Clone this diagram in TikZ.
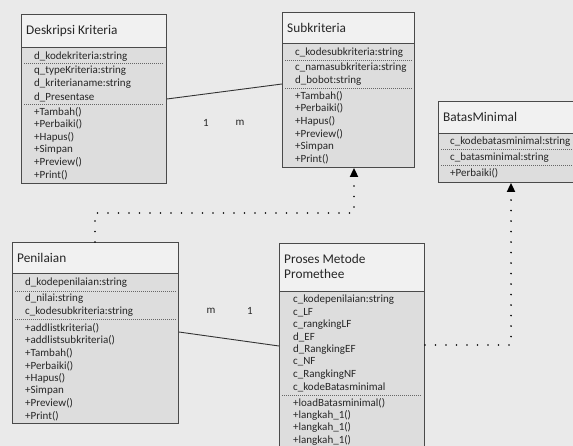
\documentclass[tikz,border=0pt]{standalone}
\usepackage{fontspec}
\setmainfont{Carlito}
\usetikzlibrary{positioning,arrows.meta,calc}
\definecolor{bgpaper}{HTML}{EAEAEA}
\definecolor{headfill}{HTML}{F1F1F1}
\definecolor{bodyfill}{HTML}{DDDDDD}
\definecolor{edgegray}{HTML}{4A4A4A}
\tikzset{
  classbox/.style={draw=edgegray, line width=0.9pt, fill=headfill, anchor=north west, inner sep=0pt,
    path picture={\fill[bodyfill] ([yshift=-#1]path picture bounding box.north west)
      rectangle (path picture bounding box.south east);}},
  ctitle/.style={anchor=west, inner sep=0pt, text=black!85, font=\fontsize{13.3}{15}\selectfont},
  crow/.style={anchor=west, inner sep=0pt, text=black!85, font=\fontsize{11}{12}\selectfont},
  sepline/.style={draw=edgegray, line width=0.8pt},
  dotsep/.style={draw=black!60, line width=0.6pt, dash pattern=on 1pt off 1pt},
  assoc/.style={draw=black!80, line width=0.9pt},
  depend/.style={draw=black, line width=1.8pt, line cap=round, dash pattern=on 0pt off 10.5pt,
    -{Triangle[width=8pt,length=9pt]}},
  mult/.style={inner sep=0pt, text=black!85, font=\fontsize{11}{13}\selectfont}
}

\begin{document}
\begin{tikzpicture}[x=1pt, y=-1pt]
  % latar
  \fill[bgpaper] (0,0) rectangle (573,446);
  \useasboundingbox (0,0) rectangle (573,446);
  \clip (0,0) rectangle (573,446);

  % Deskripsi Kriteria
  \node[classbox=33pt, minimum width=145pt, minimum height=169pt] (desk) at (21,14) {};
  \draw[sepline] ([yshift=-33pt]desk.north west) -- ([yshift=-33pt]desk.north east);
  \draw[dotsep] ([xshift=3pt,yshift=-49pt]desk.north west) -- ([xshift=-3pt,yshift=-49pt]desk.north east);
  \draw[dotsep] ([xshift=3pt,yshift=-90pt]desk.north west) -- ([xshift=-3pt,yshift=-90pt]desk.north east);
  \node[ctitle] (desk-t) at (26,31) {Deskripsi Kriteria};
  \node[crow] (desk-k) at (34,57) {d\_kodekriteria:string};
  \foreach \t [count=\i from 0] in {q\_typeKriteria:string, d\_kriterianame:string, d\_Presentase}
    \node[crow] (desk-a\i) at (34,71+13*\i) {\t};
  \foreach \t [count=\i from 0] in {+Tambah(), +Perbaiki(), +Hapus(), +Simpan, +Preview(), +Print()}
    \node[crow] (desk-m\i) at (34,112+12.6*\i) {\t};

  % Subkriteria
  \node[classbox=31pt, minimum width=132pt, minimum height=155pt] (sub) at (282,12) {};
  \draw[sepline] ([yshift=-31pt]sub.north west) -- ([yshift=-31pt]sub.north east);
  \draw[dotsep] ([xshift=3pt,yshift=-48pt]sub.north west) -- ([xshift=-3pt,yshift=-48pt]sub.north east);
  \draw[dotsep] ([xshift=3pt,yshift=-76pt]sub.north west) -- ([xshift=-3pt,yshift=-76pt]sub.north east);
  \node[ctitle] (sub-t) at (287,28) {Subkriteria};
  \node[crow] (sub-k) at (295,53) {c\_kodesubkriteria:string};
  \foreach \t [count=\i from 0] in {c\_namasubkriteria:string, d\_bobot:string}
    \node[crow] (sub-a\i) at (295,68+12.5*\i) {\t};
  \foreach \t [count=\i from 0] in {+Tambah(), +Perbaiki(), +Hapus(), +Preview(), +Simpan, +Print()}
    \node[crow] (sub-m\i) at (295,96+12.6*\i) {\t};

  % BatasMinimal
  \node[classbox=32pt, minimum width=138pt, minimum height=81pt] (batas) at (438,101) {};
  \draw[sepline] ([yshift=-32pt]batas.north west) -- ([yshift=-32pt]batas.north east);
  \draw[dotsep] ([xshift=3pt,yshift=-48pt]batas.north west) -- ([xshift=-3pt,yshift=-48pt]batas.north east);
  \draw[dotsep] ([xshift=3pt,yshift=-64pt]batas.north west) -- ([xshift=-3pt,yshift=-64pt]batas.north east);
  \node[ctitle] (batas-t) at (443,117) {BatasMinimal};
  \node[crow] (batas-k) at (450,142) {c\_kodebatasminimal:string};
  \node[crow] (batas-a) at (450,158) {c\_batasminimal:string};
  \node[crow] (batas-m) at (450,173) {+Perbaiki()};

  % Penilaian
  \node[classbox=31pt, minimum width=166pt, minimum height=181pt] (pen) at (12,242) {};
  \draw[sepline] ([yshift=-31pt]pen.north west) -- ([yshift=-31pt]pen.north east);
  \draw[dotsep] ([xshift=3pt,yshift=-49pt]pen.north west) -- ([xshift=-3pt,yshift=-49pt]pen.north east);
  \draw[dotsep] ([xshift=3pt,yshift=-77pt]pen.north west) -- ([xshift=-3pt,yshift=-77pt]pen.north east);
  \node[ctitle] (pen-t) at (17,258) {Penilaian};
  \node[crow] (pen-k) at (25,283) {d\_kodepenilaian:string};
  \foreach \t [count=\i from 0] in {d\_nilai:string, c\_kodesubkriteria:string}
    \node[crow] (pen-a\i) at (25,299+12.5*\i) {\t};
  \foreach \t [count=\i from 0] in {+addlistkriteria(), +addlistsubkriteria(), +Tambah(), +Perbaiki(),
      +Hapus(), +Simpan, +Preview(), +Print()}
    \node[crow] (pen-m\i) at (25,328+12.6*\i) {\t};

  % Proses Metode Promethee
  \node[classbox=48pt, minimum width=145pt, minimum height=215pt] (proc) at (279,243) {};
  \draw[sepline] ([yshift=-48pt]proc.north west) -- ([yshift=-48pt]proc.north east);
  \draw[dotsep] ([xshift=3pt,yshift=-152pt]proc.north west) -- ([xshift=-3pt,yshift=-152pt]proc.north east);
  \node[ctitle, align=left] (proc-t) at (284,266.5) {Proses Metode\\Promethee};
  \foreach \t [count=\i from 0] in {c\_kodepenilaian:string, c\_LF, c\_rangkingLF, d\_EF, d\_RangkingEF,
      c\_NF, c\_RangkingNF, c\_kodeBatasminimal}
    \node[crow] (proc-a\i) at (293,300+12.43*\i) {\t};
  \foreach \t [count=\i from 0] in {+loadBatasminimal(), +langkah\_1(), +langkah\_1(), +langkah\_1()}
    \node[crow] (proc-m\i) at (293,403+12.4*\i) {\t};

  % asosiasi
  \draw[assoc] ([yshift=-85pt]desk.north east) -- ([yshift=-72pt]sub.north west);
  \node[mult] (m-desk) at (206,123) {1};
  \node[mult] (m-sub) at (240,123) {m};
  \draw[assoc] ([yshift=-90pt]pen.north east) -- ([yshift=-103pt]proc.north west);
  \node[mult] (m-pen) at (211,311) {m};
  \node[mult] (m-proc) at (250,311) {1};

  % dependensi
  \draw[depend] ([xshift=83pt]pen.north west) -- ++(0,-29) -| ([xshift=72pt]sub.south west);
  \draw[depend] ([yshift=-102pt]proc.north east) -| ([xshift=73pt]batas.south west);
\end{tikzpicture}
\end{document}
